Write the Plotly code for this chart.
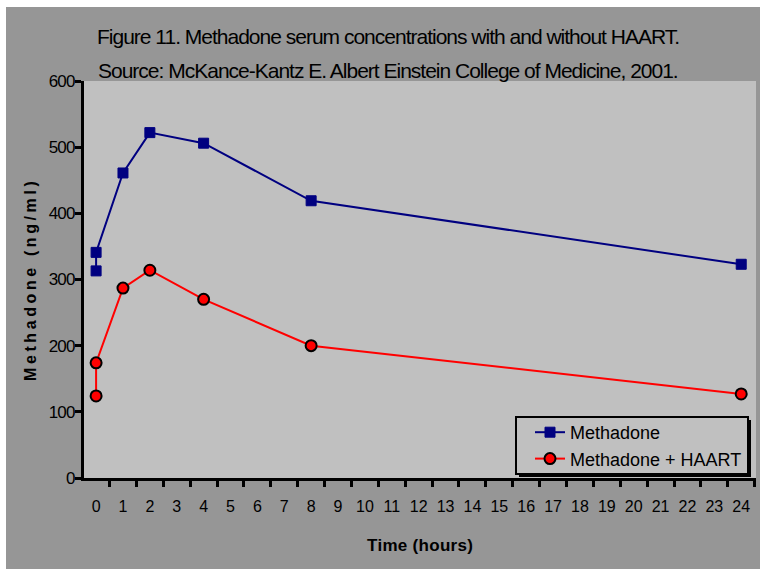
import plotly.graph_objects as go

time_hours = [0, 0, 1, 2, 4, 8, 24]
methadone = [313, 341, 461, 522, 506, 419, 323]
methadone_haart = [124, 174, 287, 314, 270, 200, 127]
x_tick_vals = list(range(0, 25))
y_tick_vals = [0, 100, 200, 300, 400, 500, 600]

title_line1 = "Figure 11. Methadone serum concentrations with and without HAART."
title_line2 = "Source: McKance-Kantz E. Albert Einstein College of Medicine, 2001."

FONT = "Liberation Sans, Arial, sans-serif"
W, H = 760, 569
L, R, T, B = 84, 4, 81, 91
PW, PH = W - L - R, H - T - B


def px(xp):
    return (xp - L) / PW


def py(yp):
    return (H - B - yp) / PH


fig = go.Figure()
fig.add_trace(go.Scatter(
    x=time_hours, y=methadone, name="Methadone", mode="lines+markers",
    line=dict(color="#000080", width=2),
    marker=dict(symbol="square", size=10, color="#000080",
                line=dict(color="#000080", width=1)),
))
fig.add_trace(go.Scatter(
    x=time_hours, y=methadone_haart, name="Methadone + HAART", mode="lines+markers",
    line=dict(color="#ff0000", width=2),
    marker=dict(symbol="circle", size=11, color="#ff0000",
                line=dict(color="black", width=2)),
))

shapes = [
    # white strips outside the gray frame
    dict(type="rect", xref="paper", yref="paper", x0=px(-20), x1=px(800),
         y0=py(7), y1=py(-20), fillcolor="white", line=dict(width=0), layer="below"),
    dict(type="rect", xref="paper", yref="paper", x0=px(-20), x1=px(6),
         y0=py(600), y1=py(-20), fillcolor="white", line=dict(width=0), layer="below"),
    # legend shadow and box
    dict(type="rect", xref="paper", yref="paper", x0=px(519), x1=px(751),
         y0=py(477), y1=py(420), fillcolor="black", line=dict(width=0), layer="above"),
    dict(type="rect", xref="paper", yref="paper", x0=px(516), x1=px(748),
         y0=py(474), y1=py(417), fillcolor="#c0c0c0", line=dict(color="black", width=2),
         layer="above"),
]

annotations = [
    dict(text="<span style='letter-spacing:-1px'>%s</span>" % title_line1,
         xref="paper", yref="paper", x=px(388), y=py(36), showarrow=False,
         xanchor="center", yanchor="middle", font=dict(family=FONT, size=21, color="black")),
    dict(text="<span style='letter-spacing:-1px'>%s</span>" % title_line2,
         xref="paper", yref="paper", x=px(388), y=py(70), showarrow=False,
         xanchor="center", yanchor="middle", font=dict(family=FONT, size=21, color="black")),
    dict(text="<b><span style='letter-spacing:3.6px'>Methadone (ng/ml)</span></b>",
         xref="paper", yref="paper", x=px(30), y=py(280), showarrow=False, textangle=-90,
         xanchor="center", yanchor="middle", font=dict(family=FONT, size=16, color="black")),
    dict(text="<b><span style='letter-spacing:0.3px'>Time (hours)</span></b>",
         xref="paper", yref="paper", x=px(420), y=py(545), showarrow=False,
         xanchor="center", yanchor="middle", font=dict(family=FONT, size=17, color="black")),
]

fig.update_layout(
    width=W, height=H,
    margin=dict(l=L, r=R, t=T, b=B, pad=0),
    paper_bgcolor="#969696",
    plot_bgcolor="#c0c0c0",
    font=dict(family=FONT, size=16, color="black"),
    shapes=shapes,
    annotations=annotations,
    legend=dict(
        x=px(530), y=py(414), xanchor="left", yanchor="top",
        bgcolor="rgba(0,0,0,0)", borderwidth=0,
        font=dict(family=FONT, size=18, color="black"),
        tracegroupgap=0, itemwidth=30,
    ),
    xaxis=dict(
        range=[-0.45, 24.55], tickmode="array", tickvals=x_tick_vals,
        ticktext=[str(v) for v in x_tick_vals], ticks="",
        ticklabelstandoff=12,
        showline=True, linecolor="black", linewidth=3, showgrid=False, zeroline=False,
        tickfont=dict(family=FONT, size=16, color="black"),
        minor=dict(tick0=-0.5, dtick=1, ticks="outside", ticklen=6, tickwidth=3,
                   tickcolor="black", showgrid=False),
    ),
    yaxis=dict(
        range=[0, 600], tickmode="array", tickvals=y_tick_vals,
        ticktext=["<span style='letter-spacing:-0.8px'>%d</span>" % v for v in y_tick_vals],
        ticks="outside", ticklen=6, tickwidth=3, tickcolor="black",
        showline=True, linecolor="black", linewidth=3, showgrid=False, zeroline=False,
        tickfont=dict(family=FONT, size=17, color="black"),
        ticklabelstandoff=-3,
    ),
)

fig.write_html("out.html")
